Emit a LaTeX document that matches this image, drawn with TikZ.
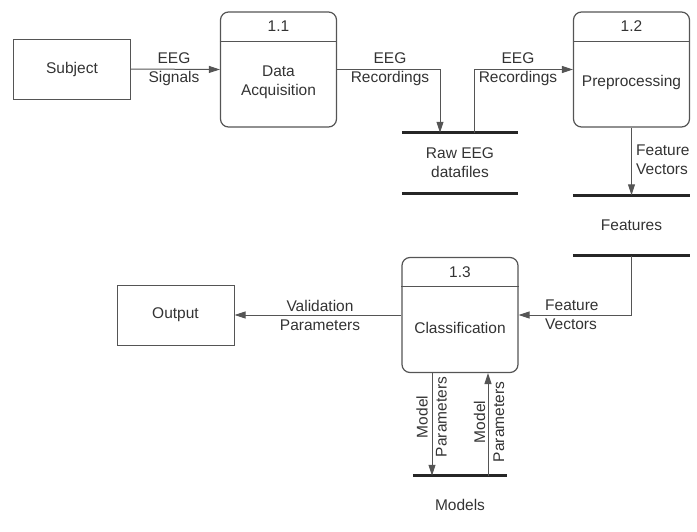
\documentclass[tikz,border=0pt]{standalone}
\usepackage{fontspec}
\setmainfont{Liberation Sans}
\usetikzlibrary{arrows.meta}
\definecolor{txt}{HTML}{333333}
\definecolor{ln}{HTML}{555555}
\begin{document}
\begin{tikzpicture}[x=1pt,y=-1pt,
  every node/.style={text=txt,font=\fontsize{15.5}{19}\selectfont,inner sep=0pt},
  ext/.style={draw=ln,line width=1pt,minimum width=117pt,minimum height=60pt},
  proc/.style={draw=ln,line width=1.2pt,rounded corners=8pt,minimum width=116pt,minimum height=115pt},
  store/.style={minimum height=60pt},
  storeline/.style={draw=black!85,line width=3pt},
  arr/.style={draw=ln,line width=1pt,-{Triangle[length=11pt,width=7pt]}},
  lbl/.style={align=center},
  lbll/.style={align=left,anchor=west}]
\useasboundingbox (0,0) rectangle (697,531);
% external entities
\node[ext] (subj) at (72,69) {Subject};
\node[ext] (out) at (175.5,315) {Output};
% processes
\node[proc] (da) at (278.5,69.5) {};
\node[proc] (pre) at (631.5,69.5) {};
\node[proc] (cls) at (460,315) {};
\foreach \p/\n/\t in {da/1.1/{Data\\Acquisition}, pre/1.2/{Preprocessing}, cls/1.3/{Classification}}{
  \draw[ln,line width=1pt] ([yshift=-30pt]\p.north west) -- ([yshift=-30pt]\p.north east);
  \node (\p-id) at ([yshift=-15pt]\p.north) {\n};
  \node[lbl] (\p-txt) at ([yshift=-12.5pt]\p.center) {\t};
}
% data stores
\node[store,minimum width=116pt,lbl] (raw) at (460,163) {Raw EEG\\datafiles};
\node[store,minimum width=117pt] (feat) at (631.5,225.5) {Features};
\node[minimum width=94pt,minimum height=58pt] (mod) at (460,505) {Models};
\draw[storeline] (raw.north west) -- (raw.north east);
\draw[storeline] (raw.south west) -- (raw.south east);
\draw[storeline] (feat.north west) -- (feat.north east);
\draw[storeline] (feat.south west) -- (feat.south east);
\draw[storeline] (mod.north west) -- (mod.north east);
% flows
\draw[arr] (subj.east) -- (da.west);
\draw[arr] (da.east) -| ([xshift=-20pt]raw.north);
\draw[arr] ([xshift=14pt]raw.north) |- (pre.west);
\draw[arr] (pre.south) -- (feat.north);
\draw[arr] (feat.south) |- (cls.east);
\draw[arr] (cls.west) -- (out.east);
\draw[arr] ([xshift=-28pt]cls.south) -- ([xshift=-28pt]mod.north);
\draw[arr] ([xshift=28pt]mod.north) -- ([xshift=28pt]cls.south);
% labels
\node[lbl] (l1) at (174,69.5) {EEG\\Signals};
\node[lbl] (l2) at (390,69.5) {EEG\\Recordings};
\node[lbl] (l3) at (518,69.5) {EEG\\Recordings};
\node[lbll] (l4) at (636,159.5) {Feature\\Vectors};
\node[lbll] (l5) at (545,315) {Feature\\Vectors};
\node[lbl] (l6) at (320,315) {Validation\\Parameters};
\node[lbl,rotate=90] (l7) at (431.5,417) {Model\\Parameters};
\node[lbl,rotate=90] (l8) at (489,422) {Model\\Parameters};
\end{tikzpicture}
\end{document}
